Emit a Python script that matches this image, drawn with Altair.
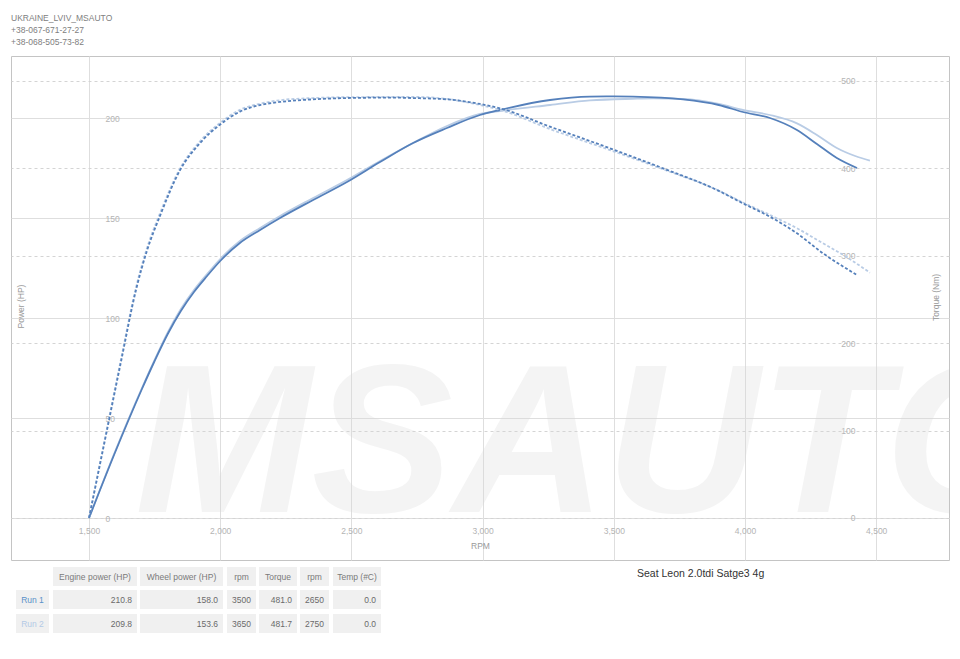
import altair as alt
import pandas as pd

# ---------------- data ----------------
run1_power_rpm = [1500, 1600, 1700, 1750, 1800, 1850, 1900, 1950, 2000, 2075, 2152,
                  2228, 2354, 2483, 2609, 2735, 2864, 2990, 3066, 3257, 3409,
                  3500, 3573, 3764, 3900, 3992, 4095, 4198, 4274, 4350, 4427]
run1_power_hp = [0, 33, 64, 78.5, 92, 103.5, 113, 121, 128.5, 137.5, 144,
                 150, 159, 168, 178, 187.5, 195, 201.5, 204, 209, 210.7,
                 210.8, 210.7, 209.3, 206.5, 203, 200, 194, 187, 180, 175]

run2_power_rpm = [1500, 1600, 1700, 1750, 1800, 1850, 1900, 1950, 2000, 2075, 2152,
                  2228, 2354, 2483, 2609, 2735, 2864, 2990, 3066, 3257, 3409,
                  3573, 3650, 3764, 3900, 3992, 4095, 4198, 4274, 4350, 4420, 4476]
run2_power_hp = [0, 33.5, 64.5, 79, 92.8, 104.5, 114, 122, 129.5, 138.5, 145,
                 151, 160, 169, 178.5, 187.5, 196, 202, 203.5, 206.5, 208.8,
                 209.6, 209.8, 209.5, 207, 204, 201.5, 197.3, 191.5, 185, 181, 178.7]

run1_torque_rpm = [1500, 1560, 1620, 1680, 1720, 1771, 1847, 1923, 1999, 2075,
                   2152, 2228, 2354, 2483, 2650, 2735, 2864, 2990, 3066, 3257,
                   3485, 3688, 3893, 3992, 4095, 4198, 4297, 4427]
run1_torque_nm = [0, 88, 176, 262, 305, 346, 398, 429, 450, 465,
                  472.5, 476, 479, 480.5, 481, 480.5, 479, 473.7, 468.8, 447.7,
                  423, 400, 375.3, 360, 344.7, 325.7, 302.9, 278]

run2_torque_rpm = [1500, 1560, 1620, 1680, 1720, 1771, 1847, 1923, 1999, 2075,
                   2152, 2228, 2354, 2483, 2609, 2750, 2864, 2990, 3066, 3257,
                   3485, 3688, 3893, 3992, 4095, 4198, 4297, 4374, 4476]
run2_torque_nm = [0, 90, 179, 265, 308, 349, 400, 431, 452, 467,
                  474, 478, 480.5, 481.5, 481.7, 481.7, 479.5, 472.5, 467, 445,
                  421, 399, 375.5, 361, 346.7, 331.5, 314.3, 301, 280.7]

x_ticks = [1500, 2000, 2500, 3000, 3500, 4000, 4500]
hp_ticks = [0, 50, 100, 150, 200]
nm_ticks = [0, 100, 200, 300, 400, 500]

header_lines = ["UKRAINE_LVIV_MSAUTO", "+38-067-671-27-27", "+38-068-505-73-82"]
chart_title = "Seat Leon 2.0tdi Satge3 4g"
watermark_text = "MSAUTO"

table_columns = ["Engine power (HP)", "Wheel power (HP)", "rpm", "Torque", "rpm", "Temp (#C)"]
run_names = ["Run 1", "Run 2"]
engine_power = ["210.8", "209.8"]
wheel_power = ["158.0", "153.6"]
power_rpm = ["3500", "3650"]
torque_max = ["481.0", "481.7"]
torque_rpm = ["2650", "2750"]
temp_c = ["0.0", "0.0"]

# ---------------- layout / style ----------------
FONT = "Liberation Sans"
W, H = 938, 504
OX, OY = 11, 56  # page position of plot origin
DARK = "#5580bb"
LIGHT = "#b9cce5"
RUN_COLORS = ["#5a90c8", "#b4cae6"]
LABEL_GRAY = "#b4b4b4"
TITLE_GRAY = "#9a9a9a"

X_DOMAIN = [1202.7, 4777.4]
HP_DOMAIN = [-21, 231]
NM_DOMAIN = [-48.1, 528.6]

x_axis = alt.Axis(values=x_ticks, format=",.0f", offset=-42, grid=True, gridColor="#dedede",
                  domain=False, ticks=False, tickSize=0, labelFontSize=8.5, labelColor=LABEL_GRAY,
                  labelFont=FONT, labelPadding=8, labelFlush=False, labelOverlap=False,
                  title="RPM", titleFont=FONT, titleFontSize=8.5, titleFontWeight="normal",
                  titleColor=TITLE_GRAY, titleY=27, titleBaseline="middle")
x_enc = alt.X("rpm:Q", scale=alt.Scale(domain=X_DOMAIN, nice=False, zero=False), axis=x_axis)

hp_axis = alt.Axis(values=hp_ticks, orient="left", offset=-96, grid=True, gridColor="#dedede",
                   domain=False, ticks=False, tickSize=0, labelAlign="left", labelBaseline="middle",
                   labelPadding=2, labelFontSize=8.5, labelColor=LABEL_GRAY, labelFont=FONT,
                   title="Power (HP)", titleFont=FONT, titleFontSize=8.5, titleFontWeight="normal",
                   titleColor=TITLE_GRAY, titleAngle=270, titleX=-87, titleY=250,
                   titleBaseline="middle", titleAlign="center")
nm_axis = alt.Axis(values=nm_ticks, orient="right", offset=-96, grid=True, gridColor="#d4d4d4",
                   gridDash=[3, 3], domain=False, ticks=False, tickSize=0, labelAlign="right",
                   labelBaseline="middle", labelPadding=2, labelFontSize=8.5, labelColor=LABEL_GRAY,
                   labelFont=FONT, title="Torque (Nm)", titleFont=FONT, titleFontSize=8.5,
                   titleFontWeight="normal", titleColor=TITLE_GRAY, titleAngle=270, titleX=82,
                   titleY=241, titleBaseline="middle", titleAlign="center")


def line_layer(rpm, vals, field, axis, domain, color, dash=None):
    df = pd.DataFrame({"rpm": rpm, field: vals})
    kw = dict(color=color, strokeWidth=1.8, interpolate="monotone")
    if dash:
        kw["strokeDash"] = dash
    return alt.Chart(df).mark_line(**kw).encode(
        x=x_enc,
        y=alt.Y(f"{field}:Q", scale=alt.Scale(domain=domain, nice=False, zero=False), axis=axis),
    )


wm = alt.Chart(pd.DataFrame({"t": [watermark_text]})).mark_text(
    font=FONT, fontSize=212, fontWeight="bold",
    fontStyle="italic", align="left", baseline="alphabetic", color="#d8d8d8", opacity=0.28,
    clip=True
).encode(text="t:N", x=alt.value(124), y=alt.value(456))

power = alt.layer(
    line_layer(run2_power_rpm, run2_power_hp, "hp", hp_axis, HP_DOMAIN, LIGHT),
    line_layer(run1_power_rpm, run1_power_hp, "hp", hp_axis, HP_DOMAIN, DARK),
)
torque = alt.layer(
    line_layer(run2_torque_rpm, run2_torque_nm, "nm", nm_axis, NM_DOMAIN, LIGHT, [3, 2]),
    line_layer(run1_torque_rpm, run1_torque_nm, "nm", nm_axis, NM_DOMAIN, DARK, [3, 2]),
)
plot = alt.layer(wm, power, torque).resolve_scale(y="independent")

# ---------------- table ----------------
COL_LEFT = [53, 140, 227, 259, 300, 333]
COL_RIGHT = [137, 223, 256, 297, 329, 381]
LABEL_CELL = (16, 49)
ROW_TOP = [567, 590, 614]
ROW_H = 19

run_values = [engine_power, wheel_power, power_rpm, torque_max, torque_rpm, temp_c]

cells, head_txt, val_txt, run_txt = [], [], [], []
for ci, name in enumerate(table_columns):
    x1, x2 = COL_LEFT[ci] - OX, COL_RIGHT[ci] - OX
    for ri in range(3):
        y1 = ROW_TOP[ri] - OY
        cells.append({"x1": x1, "x2": x2, "y1": y1, "y2": y1 + ROW_H})
    head_txt.append({"x": (x1 + x2) / 2, "y": ROW_TOP[0] - OY + ROW_H / 2, "t": name})
    for ri in range(2):
        val_txt.append({"x": x2 - 5, "y": ROW_TOP[ri + 1] - OY + ROW_H / 2, "t": run_values[ci][ri]})
for ri, rn in enumerate(run_names):
    y1 = ROW_TOP[ri + 1] - OY
    cells.append({"x1": LABEL_CELL[0] - OX, "x2": LABEL_CELL[1] - OX, "y1": y1, "y2": y1 + ROW_H})
    run_txt.append({"x": (LABEL_CELL[0] + LABEL_CELL[1]) / 2 - OX, "y": y1 + ROW_H / 2, "t": rn,
                    "c": RUN_COLORS[ri]})

px = dict(scale=None, axis=None)
rects = alt.Chart(pd.DataFrame(cells)).mark_rect(color="#f0f0f0").encode(
    x=alt.X("x1:Q", **px), x2="x2:Q", y=alt.Y("y1:Q", **px), y2="y2:Q")
heads = alt.Chart(pd.DataFrame(head_txt)).mark_text(
    font=FONT, fontSize=8.5, color="#7a7a7a", align="center", baseline="middle").encode(
    x=alt.X("x:Q", **px), y=alt.Y("y:Q", **px), text="t:N")
vals = alt.Chart(pd.DataFrame(val_txt)).mark_text(
    font=FONT, fontSize=8.5, color="#6a6a6a", align="right", baseline="middle").encode(
    x=alt.X("x:Q", **px), y=alt.Y("y:Q", **px), text="t:N")
runs = alt.Chart(pd.DataFrame(run_txt)).mark_text(
    font=FONT, fontSize=8.5, align="center", baseline="middle").encode(
    x=alt.X("x:Q", **px), y=alt.Y("y:Q", **px), text="t:N",
    color=alt.Color("c:N", scale=None, legend=None))

header = alt.Chart(pd.DataFrame({
    "t": header_lines,
    "x": [0, 0, 0],
    "y": [20.7 - OY + 12 * i for i in range(3)],
})).mark_text(font=FONT, fontSize=8.5, color="#808080", align="left", baseline="alphabetic").encode(
    x=alt.X("x:Q", **px), y=alt.Y("y:Q", **px), text="t:N")

title = alt.Chart(pd.DataFrame({"t": [chart_title], "x": [637 - OX], "y": [574 - OY]})).mark_text(
    font=FONT, fontSize=10.5, color="#333333", align="left", baseline="middle").encode(
    x=alt.X("x:Q", **px), y=alt.Y("y:Q", **px), text="t:N")

chart = alt.layer(plot, rects, heads, vals, runs, header, title).resolve_scale(
    x="independent", y="independent"
).properties(
    width=W, height=H,
    autosize=alt.AutoSizeParams(type="none"),
    padding={"left": 3, "top": 48, "right": 3, "bottom": 90},
).configure_view(stroke="#c4c4c4", strokeWidth=1)

chart.save("out.html", embed_options={"renderer": "svg", "actions": False})
